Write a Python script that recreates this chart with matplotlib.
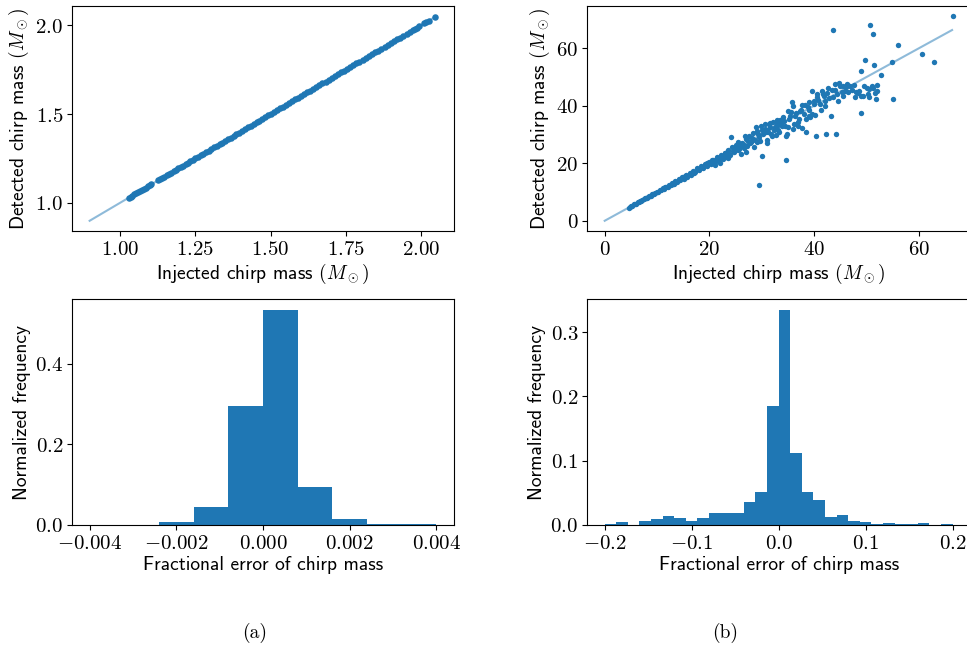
import numpy as np
import matplotlib
matplotlib.use('Agg')
import matplotlib.pyplot as plt
from matplotlib.ticker import FuncFormatter, MultipleLocator

plt.rcParams['font.family'] = 'cmss10'
plt.rcParams['mathtext.fontset'] = 'cm'
plt.rcParams['axes.unicode_minus'] = False

# ---- (a) binary neutron star-like range: injected vs detected chirp mass
inj_a = [1.030, 1.036, 1.042, 1.048, 1.055, 1.061, 1.068, 1.074, 1.080, 1.087,
         1.093, 1.099, 1.104, 1.127, 1.133, 1.140, 1.148, 1.156, 1.163, 1.171,
         1.179, 1.186, 1.194, 1.202, 1.210, 1.218, 1.226, 1.234, 1.242, 1.251,
         1.259, 1.268, 1.277, 1.286, 1.295, 1.304, 1.313, 1.322, 1.331, 1.340,
         1.350, 1.359, 1.368, 1.378, 1.387, 1.396, 1.406, 1.415, 1.425, 1.434,
         1.444, 1.454, 1.463, 1.473, 1.483, 1.492, 1.502, 1.512, 1.522, 1.532,
         1.542, 1.552, 1.562, 1.572, 1.582, 1.592, 1.602, 1.612, 1.622, 1.632,
         1.642, 1.652, 1.662, 1.672, 1.683, 1.693, 1.703, 1.713, 1.723, 1.734,
         1.744, 1.754, 1.764, 1.775, 1.785, 1.795, 1.806, 1.816, 1.826, 1.837,
         1.847, 1.857, 1.868, 1.878, 1.889, 1.899, 1.909, 1.920, 1.930, 1.941,
         1.951, 1.961, 1.971, 1.979, 1.986, 1.994, 2.010, 2.017, 2.024, 2.046]
det_a = [1.030, 1.036, 1.042, 1.048, 1.055, 1.061, 1.068, 1.074, 1.080, 1.087,
         1.093, 1.099, 1.105, 1.127, 1.133, 1.140, 1.148, 1.156, 1.163, 1.171,
         1.179, 1.186, 1.194, 1.202, 1.210, 1.218, 1.226, 1.234, 1.242, 1.251,
         1.259, 1.268, 1.277, 1.286, 1.295, 1.304, 1.313, 1.322, 1.331, 1.340,
         1.350, 1.359, 1.368, 1.378, 1.387, 1.396, 1.406, 1.415, 1.425, 1.434,
         1.444, 1.454, 1.463, 1.473, 1.483, 1.492, 1.502, 1.512, 1.522, 1.532,
         1.542, 1.552, 1.562, 1.572, 1.582, 1.592, 1.602, 1.612, 1.622, 1.632,
         1.642, 1.652, 1.662, 1.672, 1.683, 1.693, 1.703, 1.713, 1.723, 1.734,
         1.744, 1.754, 1.764, 1.775, 1.785, 1.795, 1.806, 1.816, 1.826, 1.837,
         1.847, 1.857, 1.868, 1.878, 1.889, 1.899, 1.909, 1.920, 1.930, 1.941,
         1.951, 1.961, 1.971, 1.979, 1.986, 1.994, 2.010, 2.017, 2.024, 2.046]
line_a = [0.9, 2.05]

# ---- (b) binary black hole-like range
inj_b = [4.6, 4.9, 5.1, 5.3, 5.6, 5.8, 6.0, 6.3, 6.5, 6.8, 7.0, 7.2, 7.5, 7.7,
         8.0, 8.2, 8.5, 8.8, 9.0, 9.3, 9.6, 9.9, 10.2, 10.5, 10.8, 11.1, 11.4,
         11.7, 12.0, 12.3, 12.6, 12.9, 13.2, 13.5, 13.8, 14.1, 14.4, 14.8, 15.1,
         15.5, 15.8, 16.2, 16.5, 16.9, 17.3, 17.7, 18.0, 18.4, 18.8, 19.2, 19.6,
         20.0, 20.3, 20.7, 21.0, 21.4, 21.8, 22.2, 22.5, 22.9, 23.2, 23.6, 24.0,
         24.3, 24.7, 25.0, 25.4, 25.8, 26.2, 26.5, 26.9, 27.2, 27.6, 28.0, 28.3,
         28.7, 29.1, 29.5, 29.8, 30.2, 30.6, 31.0, 31.4, 31.8, 32.1, 32.5, 32.9,
         33.3, 33.7, 34.0, 34.4, 34.8, 35.2, 35.6, 36.0, 36.4, 36.8, 37.2, 37.6,
         38.0, 38.4, 38.8, 39.2, 39.6, 40.0, 40.4, 40.8, 41.2, 41.6, 42.0, 42.3,
         42.7, 43.1, 43.6, 43.9, 44.1, 44.5, 45.0, 45.5, 46.0, 46.5, 47.2, 47.8,
         48.3, 48.9, 48.9, 49.3, 49.6, 50.0, 50.4, 50.7, 51.0, 51.2, 51.4, 51.6,
         51.8, 52.0, 52.8, 54.8, 55.1, 55.9, 60.5, 62.8, 66.4,
         24.2, 29.5, 30.1, 34.6, 34.6, 30.9, 32.0, 33.0, 28.5, 27.0, 26.0, 22.0,
         21.0, 23.5, 25.5, 26.8, 28.8, 30.5, 31.5, 35.0, 35.8, 37.6, 36.0, 39.0,
         40.5, 41.5, 42.0, 42.5, 43.5, 44.0, 45.5, 46.8, 48.5, 49.5, 50.5, 39.5,
         40.2, 37.0, 36.2, 38.5, 33.8, 32.8, 31.2, 29.0, 27.8, 26.5, 25.2, 24.5,
         23.0, 22.8, 21.5, 20.5, 19.5, 18.5, 17.0, 15.3, 13.0, 11.5, 9.5, 7.9,
         20.8, 21.7, 22.4, 23.8, 24.8, 25.6, 26.0, 27.4, 28.2, 29.3, 30.0, 30.8,
         31.6, 32.3, 33.1, 33.5, 34.2, 35.4, 36.6, 37.4, 38.2, 39.0, 40.0, 40.6,
         41.0, 41.9, 42.8, 43.3, 44.3, 45.2, 46.2, 47.5, 48.0, 49.0, 50.2, 51.3,
         52.0, 44.7, 45.8, 38.9, 36.9, 34.9, 32.6, 31.0, 29.7]
det_b = [4.5, 4.8, 5.2, 5.2, 5.7, 5.8, 5.9, 6.4, 6.4, 6.9, 6.9, 7.3, 7.4, 7.9,
         8.0, 8.1, 8.6, 8.7, 9.2, 9.2, 9.6, 10.1, 10.0, 10.7, 10.6, 11.3, 11.2,
         11.9, 11.8, 12.6, 12.3, 13.1, 12.9, 13.8, 13.4, 14.5, 14.0, 15.1, 14.6,
         15.8, 15.3, 16.7, 16.0, 17.4, 16.8, 18.3, 17.5, 19.0, 18.2, 19.9, 19.0,
         20.6, 19.6, 21.2, 20.3, 22.0, 21.0, 22.9, 21.6, 23.6, 22.2, 24.5, 23.0,
         25.5, 23.8, 26.3, 24.5, 25.9, 27.0, 25.2, 28.4, 26.0, 29.4, 27.5, 30.5,
         28.0, 31.2, 29.0, 33.0, 30.3, 32.0, 31.5, 33.5, 30.0, 34.2, 32.5, 35.1,
         31.0, 34.0, 36.0, 33.0, 30.2, 35.5, 37.8, 32.0, 36.5, 34.5, 38.0, 32.2,
         37.0, 31.0, 39.5, 36.2, 45.0, 40.5, 29.3, 42.0, 38.5, 44.0, 40.0, 30.1,
         46.0, 36.5, 66.3, 47.5, 30.0, 41.8, 47.0, 43.5, 46.5, 44.8, 45.5, 43.0,
         44.5, 37.6, 52.2, 43.3, 55.8, 46.3, 43.0, 68.0, 47.0, 64.9, 54.0, 44.5,
         42.2, 47.3, 50.8, 55.2, 42.4, 61.2, 57.8, 55.2, 71.1,
         29.0, 12.4, 22.5, 21.1, 29.4, 26.9, 29.5, 31.5, 25.5, 24.0, 23.3, 20.0,
         19.3, 21.8, 27.5, 29.5, 32.5, 33.5, 34.0, 38.0, 41.3, 40.3, 40.0, 38.5,
         43.0, 45.0, 41.5, 44.5, 43.0, 45.5, 46.8, 46.8, 45.0, 47.0, 45.8, 37.2,
         36.8, 35.5, 33.5, 35.5, 33.0, 33.8, 31.0, 27.3, 27.0, 26.4, 25.5, 24.2,
         23.5, 22.0, 21.5, 21.0, 20.2, 18.8, 16.6, 15.6, 12.8, 11.7, 9.4, 8.0,
         20.0, 21.8, 22.6, 23.3, 25.2, 24.8, 26.7, 27.6, 28.8, 30.2, 31.5, 30.8,
         32.6, 31.6, 33.2, 35.2, 34.8, 36.3, 37.5, 38.6, 40.3, 41.2, 41.5, 44.2,
         40.6, 43.2, 42.6, 45.6, 44.0, 44.7, 47.6, 47.1, 44.8, 43.2, 44.0, 46.0,
         45.0, 47.8, 45.0, 36.3, 33.0, 32.5, 29.8, 28.2, 27.8]
line_b = [0.0, 66.3]

# ---- fractional error histograms (normalized frequency per bin)
hist_a = [0.0, 0.0, 0.0066, 0.044, 0.295, 0.534, 0.0946, 0.015, 0.003, 0.003]
hist_b = [0.002, 0.004, 0.0, 0.007, 0.010, 0.014, 0.011, 0.0068, 0.011, 0.019,
          0.018, 0.018, 0.0355, 0.0516, 0.185, 0.335, 0.112, 0.0506, 0.0386, 0.0125,
          0.016, 0.0068, 0.004, 0.002, 0.0036, 0.001, 0.001, 0.0026, 0.0005, 0.001]

W, H = 967, 646
fig = plt.figure(figsize=(W / 100, H / 100), dpi=100)


def px_axes(left, top, right, bottom):
    return fig.add_axes([left / W, 1 - bottom / H, (right - left) / W, (bottom - top) / H])


def mfmt(fmt):
    return FuncFormatter(lambda v, p: '$' + (fmt % v) + '$')


LAB = 14
TCK = 15
blue = '#1f77b4'

ax1 = px_axes(72.3, 6, 453.7, 231)
ax2 = px_axes(587.3, 6, 970, 231)
ax3 = px_axes(72.3, 299, 453.7, 525)
ax4 = px_axes(587.3, 299, 970, 525)

# scatter panels
ax1.plot(line_a, line_a, color=blue, alpha=0.5, lw=1.5)
ax1.scatter(inj_a, det_a, s=22, color=blue, linewidths=0, zorder=3)
ax1.xaxis.set_major_locator(MultipleLocator(0.25))
ax1.yaxis.set_major_locator(MultipleLocator(0.5))
ax1.xaxis.set_major_formatter(mfmt('%.2f'))
ax1.yaxis.set_major_formatter(mfmt('%.1f'))

ax2.plot(line_b, line_b, color=blue, alpha=0.5, lw=1.5)
ax2.scatter(inj_b, det_b, s=15, color=blue, linewidths=0, zorder=3)
ax2.xaxis.set_major_locator(MultipleLocator(20))
ax2.yaxis.set_major_locator(MultipleLocator(20))
ax2.xaxis.set_major_formatter(mfmt('%d'))
ax2.yaxis.set_major_formatter(mfmt('%d'))

for ax in (ax1, ax2):
    ax.set_xlabel(r'Injected chirp mass $(M_\odot)$', fontsize=LAB, labelpad=2)
    ax.set_ylabel(r'Detected chirp mass $(M_\odot)$', fontsize=LAB, labelpad=3)

# histograms
edges_a = np.linspace(-0.004, 0.004, len(hist_a) + 1)
ax3.hist(edges_a[:-1], bins=edges_a, weights=hist_a, color=blue)
ax3.xaxis.set_major_locator(MultipleLocator(0.002))
ax3.yaxis.set_major_locator(MultipleLocator(0.2))
ax3.xaxis.set_major_formatter(mfmt('%.3f'))
ax3.yaxis.set_major_formatter(mfmt('%.1f'))

edges_b = np.linspace(-0.2, 0.2, len(hist_b) + 1)
ax4.hist(edges_b[:-1], bins=edges_b, weights=hist_b, color=blue)
ax4.xaxis.set_major_locator(MultipleLocator(0.1))
ax4.yaxis.set_major_locator(MultipleLocator(0.1))
ax4.xaxis.set_major_formatter(mfmt('%.1f'))
ax4.yaxis.set_major_formatter(mfmt('%.1f'))

for ax in (ax3, ax4):
    ax.set_xlabel('Fractional error of chirp mass', fontsize=LAB, labelpad=2)
    ax.set_ylabel('Normalized frequency', fontsize=LAB, labelpad=3)

for ax in (ax1, ax2, ax3, ax4):
    ax.tick_params(labelsize=TCK, pad=3)

fig.text(255 / W, 1 - 633 / H, '(a)', family='cmr10', fontsize=LAB, ha='center', va='center')
fig.text(725 / W, 1 - 633 / H, '(b)', family='cmr10', fontsize=LAB, ha='center', va='center')

fig.savefig('out.png', dpi=100)
